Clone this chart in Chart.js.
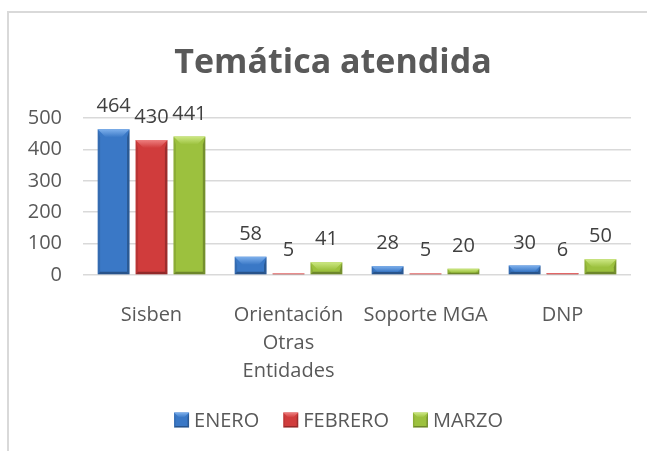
<!DOCTYPE html>
<html><head><meta charset="utf-8">
<script src="https://cdn.jsdelivr.net/npm/chart.js@4.4.1/dist/chart.umd.min.js"></script>
<style>html,body{margin:0;padding:0;background:#fff;overflow:hidden}#wrap{width:647px;height:451px;position:relative}</style>
</head><body><div id="wrap"><canvas id="c" width="647" height="451"></canvas></div>
<script>
const chartTitle = 'Temática atendida';
const categories = ['Sisben', ['Orientación', 'Otras', 'Entidades'], 'Soporte MGA', 'DNP'];
const seriesNames = ['ENERO', 'FEBRERO', 'MARZO'];
const enero = [464, 58, 28, 30];
const febrero = [430, 5, 5, 6];
const marzo = [441, 41, 20, 50];
const yTicks = [0, 100, 200, 300, 400, 500];

const palette = [
  { base: '#3a78c6', top: '#7eb0ec', dark: '#22508c' },
  { base: '#d03c3c', top: '#ee8080', dark: '#8e2222' },
  { base: '#9cc13e', top: '#cde884', dark: '#60801e' }
];
const FONT = 'Open Sans';
const TXT = '#595959';

function bevelRect(ctx, l, t, r, b, sh, dmax, smax) {
  const h = b - t;
  const d = Math.min(dmax, h * 0.7, (r - l) / 2);
  const s = Math.min(smax, h * 0.3);
  ctx.save();
  ctx.fillStyle = 'rgba(0,0,0,0.10)';
  ctx.beginPath(); ctx.moveTo(l, t); ctx.lineTo(l + s, t + d); ctx.lineTo(l + s, b - s); ctx.lineTo(l, b); ctx.closePath(); ctx.fill();
  ctx.fillStyle = 'rgba(0,0,0,0.25)';
  ctx.beginPath(); ctx.moveTo(r, t); ctx.lineTo(r, b); ctx.lineTo(r - s, b - s); ctx.lineTo(r - s, t + d); ctx.closePath(); ctx.fill();
  ctx.fillStyle = 'rgba(0,0,0,0.30)';
  ctx.beginPath(); ctx.moveTo(l, b); ctx.lineTo(r, b); ctx.lineTo(r - s, b - s); ctx.lineTo(l + s, b - s); ctx.closePath(); ctx.fill();
  const g = ctx.createLinearGradient(0, t, 0, t + Math.max(d, 1));
  g.addColorStop(0, sh.top); g.addColorStop(1, sh.base);
  ctx.fillStyle = g;
  ctx.beginPath(); ctx.moveTo(l, t); ctx.lineTo(r, t); ctx.lineTo(r - d, t + d); ctx.lineTo(l + d, t + d); ctx.closePath(); ctx.fill();
  ctx.restore();
}

const frame = {
  id: 'frame',
  beforeDraw(chart) {
    const ctx = chart.ctx;
    ctx.save();
    ctx.strokeStyle = '#d9d9d9';
    ctx.lineWidth = 2;
    ctx.beginPath();
    ctx.moveTo(8, 451); ctx.lineTo(8, 12); ctx.lineTo(647, 12);
    ctx.stroke();
    ctx.restore();
  }
};

const bevel = {
  id: 'bevel',
  afterDatasetsDraw(chart) {
    const ctx = chart.ctx;
    chart.data.datasets.forEach((ds, i) => {
      const meta = chart.getDatasetMeta(i);
      meta.data.forEach(el => {
        const p = el.getProps(['x', 'y', 'base', 'width'], true);
        bevelRect(ctx, p.x - p.width / 2, Math.min(p.y, p.base), p.x + p.width / 2, Math.max(p.y, p.base), palette[i], 8, 2.5);
      });
    });
  }
};

const texts = {
  id: 'texts',
  afterDraw(chart) {
    const ctx = chart.ctx;
    ctx.save();
    // value labels
    ctx.font = '20px "' + FONT + '"';
    ctx.fillStyle = '#404040';
    ctx.textAlign = 'center';
    ctx.textBaseline = 'alphabetic';
    chart.data.datasets.forEach((ds, i) => {
      const meta = chart.getDatasetMeta(i);
      meta.data.forEach((el, j) => {
        ctx.fillText(String(ds.data[j]), el.x, el.y - 17);
      });
    });
    // title
    ctx.font = 'bold 34px "' + FONT + '"';
    ctx.fillStyle = TXT;
    ctx.fillText(chartTitle, 333, 73);
    // legend
    ctx.font = '20px "' + FONT + '"';
    const widths = seriesNames.map(n => ctx.measureText(n).width);
    const box = 15, gapText = 5, gapItem = 24;
    const total = widths.reduce((a, w) => a + box + gapText + w, 0) + gapItem * (seriesNames.length - 1);
    let x = 338.5 - total / 2;
    const cy = 420;
    ctx.textAlign = 'left';
    ctx.textBaseline = 'middle';
    seriesNames.forEach((n, i) => {
      ctx.fillStyle = palette[i].base;
      ctx.fillRect(x, cy - 7.5, box, box);
      bevelRect(ctx, x, cy - 7.5, x + box, cy + 7.5, palette[i], 5, 1.5);
      ctx.fillStyle = TXT;
      ctx.fillText(n, x + box + gapText, cy + 1);
      x += box + gapText + widths[i] + gapItem;
    });
    ctx.restore();
  }
};

const seriesData = [enero, febrero, marzo];
new Chart(document.getElementById('c'), {
  type: 'bar',
  data: {
    labels: categories,
    datasets: seriesNames.map((n, i) => ({
      label: n,
      data: seriesData[i],
      backgroundColor: palette[i].base,
      borderWidth: 0,
      categoryPercentage: 0.83,
      barPercentage: 0.84
    }))
  },
  options: {
    responsive: false,
    animation: false,
    devicePixelRatio: 1,
    layout: { padding: { left: 0, right: 16, top: 118, bottom: 74 } },
    plugins: {
      tooltip: { enabled: false },
      title: { display: false },
      legend: { display: false }
    },
    scales: {
      x: {
        grid: { display: false },
        border: { display: false },
        ticks: { color: TXT, font: { family: FONT, size: 20, lineHeight: 1.4 }, padding: 18, maxRotation: 0, autoSkip: false },
        afterFit(s) { s.height = 102; }
      },
      y: {
        min: 0, max: 500,
        afterBuildTicks(s) { s.ticks = yTicks.map(v => ({ value: v })); },
        afterFit(s) { s.width = 83; },
        grid: { color: '#d9d9d9', lineWidth: 1.5, drawTicks: false },
        border: { display: false },
        ticks: { color: TXT, font: { family: FONT, size: 20 }, padding: 21 }
      }
    }
  },
  plugins: [frame, bevel, texts]
});
</script></body></html>
